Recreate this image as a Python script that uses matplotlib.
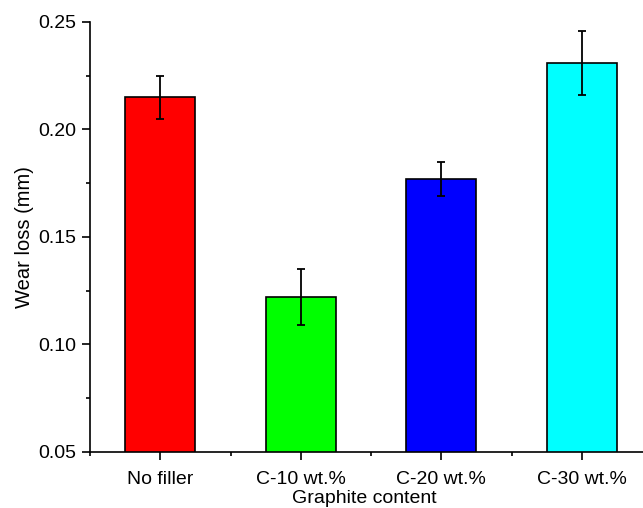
import matplotlib.pyplot as plt
from matplotlib.ticker import MultipleLocator, FixedLocator

plt.rcParams["font.family"] = ["Liberation Sans", "DejaVu Sans"]

categories = ["No filler", "C-10 wt.%", "C-20 wt.%", "C-30 wt.%"]
wear_loss = [0.215, 0.122, 0.177, 0.231]
wear_err = [0.010, 0.013, 0.008, 0.015]
colors = ["#ff0000", "#00ff00", "#0000ff", "#00ffff"]

fig = plt.figure(figsize=(6.43, 5.08), dpi=100)
# axes runs past the right edge of the figure, as in the original
ax = fig.add_axes([90 / 643, 56 / 508, 562 / 643, 430 / 508])

x = range(len(categories))
ax.bar(x, wear_loss, width=0.5, color=colors, edgecolor="black", linewidth=1.2,
       yerr=wear_err, error_kw=dict(ecolor="black", elinewidth=1.3, capsize=3, capthick=1.3),
       zorder=2)

ax.set_xlim(-0.5, 3.5)
ax.set_ylim(0.05, 0.25)
ax.set_xticks(list(x))
ax.set_xticklabels(categories)
ax.xaxis.set_minor_locator(FixedLocator([-0.5, 0.5, 1.5, 2.5]))
ax.yaxis.set_major_locator(MultipleLocator(0.05))
ax.yaxis.set_minor_locator(MultipleLocator(0.025))
ax.yaxis.set_major_formatter(plt.FormatStrFormatter("%.2f"))

ax.tick_params(axis="both", which="major", direction="out", length=6, width=1.2,
               labelsize=14, pad=4)
ax.tick_params(axis="both", which="minor", direction="out", length=3, width=1.2)
ax.tick_params(axis="x", which="major", pad=8)

for s in ("top", "right"):
    ax.spines[s].set_visible(False)
for s in ("left", "bottom"):
    ax.spines[s].set_linewidth(1.2)

ax.set_ylabel("Wear loss (mm)", fontsize=14.5)
ax.set_xlabel("Graphite content", fontsize=14)
ax.xaxis.set_label_coords(0.4875, -0.088)
ax.yaxis.set_label_coords(-0.10, 0.5)

fig.savefig("out.png", dpi=100)
